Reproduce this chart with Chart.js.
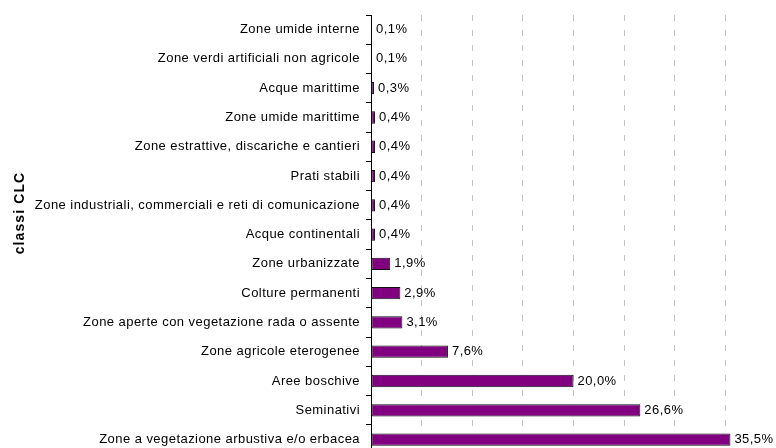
<!DOCTYPE html>
<html lang="it">
<head>
  <meta charset="UTF-8" />
  <title>Classi CLC</title>
  <style>
    html, body {
      margin: 0;
      padding: 0;
      background: #ffffff;
      overflow: hidden;
    }
    canvas { display: block; }
  </style>
</head>
<body>
  <canvas id="chart" width="776" height="468"></canvas>

  <script src="https://cdn.jsdelivr.net/npm/chart.js"></script>
  <script>
    const categories = [
      'Zone umide interne',
      'Zone verdi artificiali non agricole',
      'Acque marittime',
      'Zone umide marittime',
      'Zone estrattive, discariche e cantieri',
      'Prati stabili',
      'Zone industriali, commerciali e reti di comunicazione',
      'Acque continentali',
      'Zone urbanizzate',
      'Colture permanenti',
      'Zone aperte con vegetazione rada o assente',
      'Zone agricole eterogenee',
      'Aree boschive',
      'Seminativi',
      'Zone a vegetazione arbustiva e/o erbacea'
    ];
    const shares = [0.1, 0.1, 0.3, 0.4, 0.4, 0.4, 0.4, 0.4, 1.9, 2.9, 3.1, 7.6, 20.0, 26.6, 35.5];
    const axisTitle = 'classi CLC';

    const FONT = '"Liberation Sans", Arial, sans-serif';
    const SPACING = '0.45px';
    const fmt = v => v.toFixed(1).replace('.', ',') + '%';

    // the original text is a bit spread out, so widen letters on the canvas.
    // a canvas resize wipes the context state, so set it again before layout and draw
    const setSpacing = chart => { chart.ctx.letterSpacing = SPACING; };
    const spacing = {
      id: 'spacing',
      beforeLayout: setSpacing,
      beforeDraw: setSpacing
    };

    // value labels at the end of each bar
    const barLabels = {
      id: 'barLabels',
      afterDatasetsDraw(chart) {
        const ctx = chart.ctx;
        const meta = chart.getDatasetMeta(0);
        ctx.save();
        ctx.letterSpacing = SPACING;
        ctx.font = '13px ' + FONT;
        ctx.fillStyle = '#000';
        ctx.textBaseline = 'middle';
        ctx.textAlign = 'left';
        meta.data.forEach((bar, i) => {
          ctx.fillText(fmt(shares[i]), bar.x + 4, bar.y);
        });
        ctx.restore();
      }
    };

    // rotated axis title, placed like the original
    const sideTitle = {
      id: 'sideTitle',
      afterDraw(chart) {
        const ctx = chart.ctx;
        ctx.save();
        ctx.letterSpacing = '1.1px';
        ctx.translate(20, 213);
        ctx.rotate(-Math.PI / 2);
        ctx.font = 'bold 14px ' + FONT;
        ctx.fillStyle = '#000';
        ctx.textAlign = 'center';
        ctx.textBaseline = 'middle';
        ctx.fillText(axisTitle, 0, 0);
        ctx.restore();
      }
    };

    new Chart(document.getElementById('chart'), {
      type: 'bar',
      data: {
        labels: categories,
        datasets: [{
          data: shares,
          backgroundColor: '#800080',
          borderColor: '#111',
          borderWidth: 1,
          borderSkipped: false,
          barPercentage: 0.42,
          categoryPercentage: 1
        }]
      },
      options: {
        indexAxis: 'y',
        responsive: false,
        animation: false,
        layout: { padding: { top: 15, right: 0, bottom: 5, left: 0 } },
        plugins: {
          legend: { display: false },
          tooltip: { enabled: false }
        },
        scales: {
          x: {
            min: 0,
            max: 40,
            ticks: { display: false, stepSize: 5 },
            border: { display: false, dash: [6, 9] },
            grid: {
              color: c => (c.tick.value === 0 || c.tick.value === 40) ? 'rgba(0,0,0,0)' : '#c4c4c4',
              tickLength: 0,
              drawTicks: false
            },
            afterFit(scale) { scale.height = 0; }
          },
          y: {
            border: { display: true, color: '#000', width: 1 },
            grid: {
              drawOnChartArea: false,
              color: '#000',
              tickLength: 5
            },
            ticks: {
              color: '#000',
              padding: 6,
              autoSkip: false,
              font: { family: FONT, size: 13 }
            },
            afterFit(scale) { scale.width = 371; }
          }
        }
      },
      plugins: [spacing, barLabels, sideTitle]
    });
  </script>
</body>
</html>
